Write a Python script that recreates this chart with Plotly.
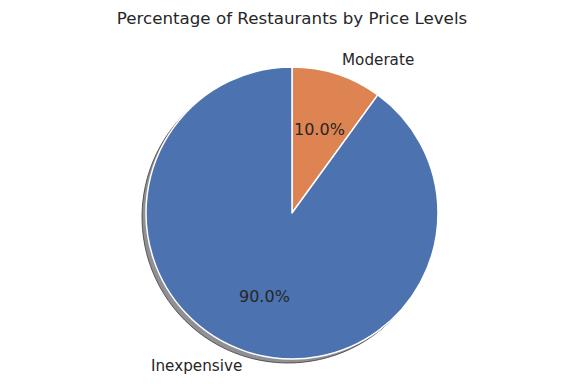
import math
import plotly.graph_objects as go

labels = ["Inexpensive", "Moderate"]
values = [90.0, 10.0]
colors = ["#4C72B0", "#DD8452"]
title = "Percentage of Restaurants by Price Levels"

W, H = 584, 384
cx, cy, R = 292, 213, 146
off = 4  # shadow offset in px

def dom(cx, cy, r):
    return dict(x=[(cx - r) / W, (cx + r) / W], y=[(H - (cy + r)) / H, (H - (cy - r)) / H])

# matplotlib draws counterclockwise from 90 deg; equivalent to clockwise with reversed order
rl, rv, rc = labels[::-1], values[::-1], colors[::-1]

fig = go.Figure()
# shadow
fig.add_trace(go.Pie(
    labels=rl, values=rv, sort=False, direction="clockwise", rotation=0,
    marker=dict(colors=["rgba(85,85,90,0.65)"] * 2, line=dict(color="rgba(60,60,65,0.8)", width=1)),
    textinfo="none", hoverinfo="skip", showlegend=False,
    domain=dom(cx - off, cy + off, R),
))
# main pie
fig.add_trace(go.Pie(
    labels=rl, values=rv, sort=False, direction="clockwise", rotation=0,
    marker=dict(colors=rc, line=dict(color="white", width=1.5)),
    textinfo="none", showlegend=False,
    domain=dom(cx, cy, R),
))

total = sum(values)
start = 90.0
annotations = []
for lab, v in zip(labels, values):
    span = 360.0 * v / total
    mid = math.radians(start + span / 2)
    start += span
    # outside label at 1.1 R
    lx = cx + 1.1 * R * math.cos(mid)
    ly = cy - 1.1 * R * math.sin(mid)
    right = math.cos(mid) > 0
    annotations.append(dict(
        x=(lx + (-2 if right else 2)) / W, y=1 - ly / H, xref="paper", yref="paper",
        text=lab, showarrow=False,
        xanchor="left" if right else "right", yanchor="middle",
        font=dict(family="DejaVu Sans", size=15.2, color="#262626"),
    ))
    px = cx + 0.6 * R * math.cos(mid)
    py = cy - 0.6 * R * math.sin(mid)
    annotations.append(dict(
        x=px / W, y=1 - py / H, xref="paper", yref="paper", text=f"{100 * v / total:.1f}%",
        showarrow=False, xanchor="center", yanchor="middle",
        font=dict(family="DejaVu Sans", size=16, color="#262626"),
    ))

fig.update_layout(
    width=W, height=H, margin=dict(l=0, r=0, t=0, b=0),
    paper_bgcolor="white", plot_bgcolor="white",
    title=dict(text=title, x=0.5, xanchor="center", y=1 - 18 / H, yanchor="middle",
               font=dict(family="DejaVu Sans", size=16.7, color="#262626")),
    annotations=annotations,
)
fig.write_html("out.html")
